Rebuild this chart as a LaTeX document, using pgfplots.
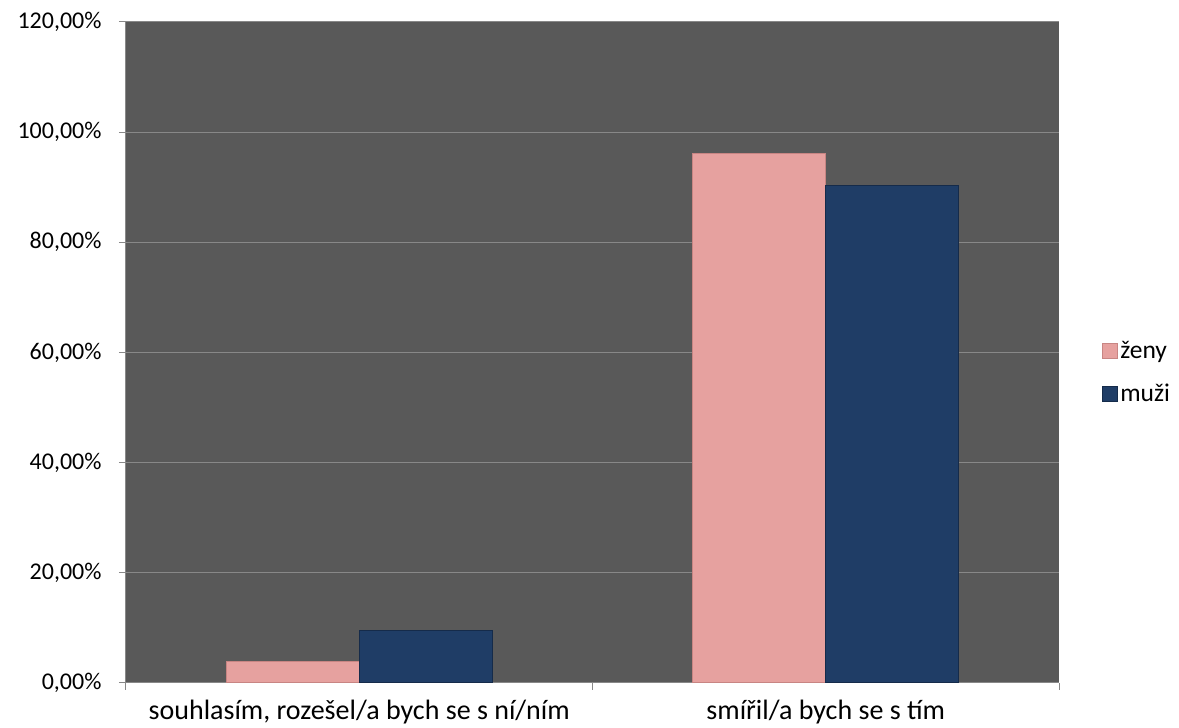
\documentclass[border=0pt]{standalone}
\usepackage{pgfplots}
\pgfplotsset{compat=1.18}
\usepackage{fontspec}
\setmainfont{Carlito}
\definecolor{bgc}{HTML}{595959}
\definecolor{gridc}{HTML}{888888}
\definecolor{pinkc}{HTML}{E6A19F}
\definecolor{pinkd}{HTML}{C88583}
\definecolor{bluec}{HTML}{1F3D66}
\definecolor{blued}{HTML}{152B4A}
\begin{document}
\begin{tikzpicture}[x=1pt,y=1pt]
\path[use as bounding box] (0,0) rectangle (1179,728);
\begin{axis}[
  at={(126pt,45pt)}, anchor=south west,
  scale only axis, width=933pt, height=661pt,
  ybar=0pt, bar width=0.285,
  xmin=-0.5, xmax=1.5, ymin=0, ymax=120,
  axis background/.style={fill=bgc},
  axis line style={gridc, line width=1pt},
  axis x line*=bottom, axis y line*=left,
  ymajorgrids, major grid style={gridc, line width=1pt},
  ytick={0,20,40,60,80,100,120},
  yticklabels={{0,00\%},{20,00\%},{40,00\%},{60,00\%},{80,00\%},{100,00\%},{120,00\%}},
  xtick={0,1},
  xticklabels={{souhlasím, rozešel/a bych se s ní/ním},{smířil/a bych se s tím}},
  tick align=outside, major tick length=7pt,
  tick style={gridc, line width=1pt},
  xtick style={draw=none},
  extra x ticks={-0.5,0.5,1.5}, extra x tick labels={},
  extra x tick style={grid=none, xtick style={draw=gridc}},
  ticklabel style={font=\fontsize{24}{28}\selectfont, text=black},
  xticklabel style={yshift=-7pt, font=\fontsize{28}{32}\selectfont},
  yticklabel style={xshift=-14pt},
  legend style={at={(1.043,0.47)}, anchor=west, draw=none, fill=none,
    font=\fontsize{25.5}{30}\selectfont, row sep=20pt,
    legend cell align=left},
  legend image code/.code={\draw[#1] (0pt,-7.5pt) rectangle (15pt,7.5pt);},
]
\addplot[fill=pinkc, draw=pinkd, line width=1pt] coordinates {(0,3.85) (1,96.15)};
\addplot[fill=bluec, draw=blued, line width=1pt] coordinates {(0,9.62) (1,90.38)};
\legend{ženy, muži}
\end{axis}
\end{tikzpicture}
\end{document}
